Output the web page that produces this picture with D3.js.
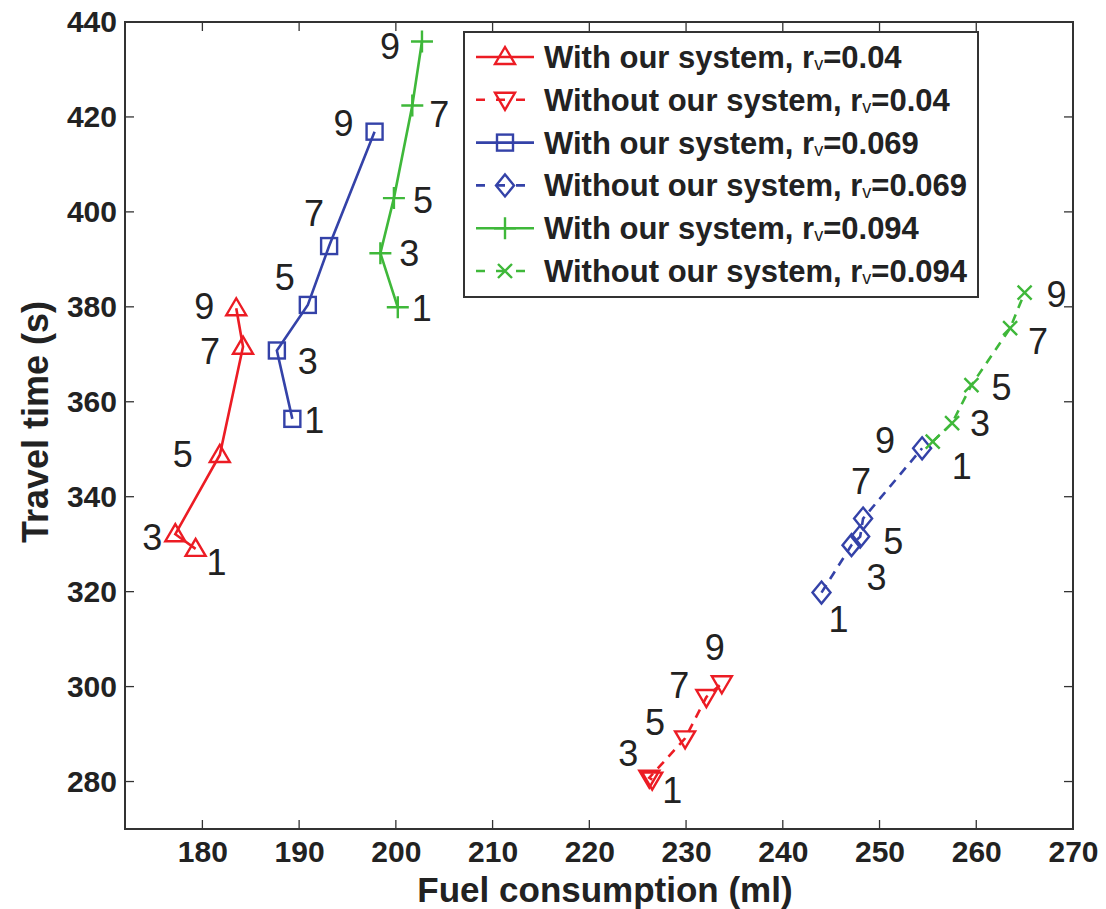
<!DOCTYPE html>
<html>
<head>
<meta charset="utf-8">
<script src="https://cdn.jsdelivr.net/npm/d3@7"></script>
<style>
  html, body { margin: 0; padding: 0; background: #fff; }
  svg { display: block; font-family: "Liberation Sans", Arial, Helvetica, sans-serif; }
</style>
</head>
<body>
<svg id="chart" width="1106" height="909"></svg>
<script>
// Ratio settings shown next to each point (1, 3, 5, 7, 9)
const pointLabels = ["1", "3", "5", "7", "9"];

// Fuel consumption (ml) and travel time (s) for each configuration
const redWithFuel      = [179.3, 177.2, 181.8, 184.2, 183.5];
const redWithTime      = [329.0, 332.1, 348.8, 371.6, 379.7];
const redWithoutFuel   = [226.5, 226.2, 229.9, 232.1, 233.7];
const redWithoutTime   = [280.4, 280.8, 289.1, 297.8, 300.7];
const blueWithFuel     = [189.3, 187.7, 190.9, 193.1, 197.8];
const blueWithTime     = [356.4, 370.8, 380.4, 392.8, 416.9];
const blueWithoutFuel  = [244.0, 247.1, 248.0, 248.3, 254.4];
const blueWithoutTime  = [319.8, 329.8, 331.6, 335.4, 350.2];
const greenWithFuel    = [200.2, 198.4, 199.8, 201.7, 202.7];
const greenWithTime    = [379.9, 391.3, 402.9, 422.4, 435.9];
const greenWithoutFuel = [255.5, 257.5, 259.5, 263.5, 265.0];
const greenWithoutTime = [351.6, 355.5, 363.5, 375.5, 383.0];

// Legend text: prefix, subscript, suffix
const legendLabels = [
  ["With our system, r", "v", "=0.04"],
  ["Without our system, r", "v", "=0.04"],
  ["With our system, r", "v", "=0.069"],
  ["Without our system, r", "v", "=0.069"],
  ["With our system, r", "v", "=0.094"],
  ["Without our system, r", "v", "=0.094"]
];

const xTicks = [180, 190, 200, 210, 220, 230, 240, 250, 260, 270];
const yTicks = [280, 300, 320, 340, 360, 380, 400, 420, 440];

// Pixel offsets of the number labels relative to their points
const labelOffsets = [
  [[21, 14], [-23, 3], [-37, 0], [-33, 5], [-32, -2]],
  [[20, 11], [-21, -24], [-30, -16], [-27, -12], [-7, -36]],
  [[22, 2], [31, 11], [-23, -27], [-15, -33], [-31, -8]],
  [[17, 27], [25, 32], [33, 5], [-2, -37], [-37, -8]],
  [[24, 1], [29, 0], [29, 2], [27, 9], [-32, 5]],
  [[29, 25], [28, 0], [30, 2], [28, 13], [32, 2]]
];

const RED = "#ec1c24", BLUE = "#3442a8", GREEN = "#3fb83a";

const series = [
  { fuel: redWithFuel,      time: redWithTime,      color: RED,   dashed: false, marker: "triUp" },
  { fuel: redWithoutFuel,   time: redWithoutTime,   color: RED,   dashed: true,  marker: "triDown" },
  { fuel: blueWithFuel,     time: blueWithTime,     color: BLUE,  dashed: false, marker: "square" },
  { fuel: blueWithoutFuel,  time: blueWithoutTime,  color: BLUE,  dashed: true,  marker: "diamond" },
  { fuel: greenWithFuel,    time: greenWithTime,    color: GREEN, dashed: false, marker: "plus" },
  { fuel: greenWithoutFuel, time: greenWithoutTime, color: GREEN, dashed: true,  marker: "cross" }
];

const svg = d3.select("#chart");
const plot = { left: 125, top: 22, right: 1073, bottom: 829 };

const x = d3.scaleLinear().domain([172, 270]).range([plot.left, plot.right]);
const y = d3.scaleLinear().domain([270, 440]).range([plot.bottom, plot.top]);

// Frame with inward ticks on all four sides
const tickLen = 9;
const axisColor = "#333";
const g = svg.append("g");

const bottomAxis = d3.axisBottom(x).tickValues(xTicks).tickSize(0).tickPadding(12);
const leftAxis = d3.axisLeft(y).tickValues(yTicks).tickSize(0).tickPadding(8);

const gx = g.append("g").attr("transform", `translate(0,${plot.bottom})`).call(bottomAxis);
const gy = g.append("g").attr("transform", `translate(${plot.left},0)`).call(leftAxis);
[gx, gy].forEach(a => {
  a.select(".domain").remove();
  a.selectAll("text")
    .attr("fill", "#222")
    .style("font-size", "30px")
    .style("font-weight", "bold");
});
gx.selectAll("text").attr("dy", "0.71em");

const ticks = g.append("g").attr("stroke", axisColor).attr("stroke-width", 1.3);
xTicks.forEach(v => {
  ticks.append("line").attr("x1", x(v)).attr("x2", x(v)).attr("y1", plot.bottom).attr("y2", plot.bottom - tickLen);
  ticks.append("line").attr("x1", x(v)).attr("x2", x(v)).attr("y1", plot.top).attr("y2", plot.top + tickLen);
});
yTicks.forEach(v => {
  ticks.append("line").attr("x1", plot.left).attr("x2", plot.left + tickLen).attr("y1", y(v)).attr("y2", y(v));
  ticks.append("line").attr("x1", plot.right).attr("x2", plot.right - tickLen).attr("y1", y(v)).attr("y2", y(v));
});

g.append("rect")
  .attr("x", plot.left).attr("y", plot.top)
  .attr("width", plot.right - plot.left).attr("height", plot.bottom - plot.top)
  .attr("fill", "none").attr("stroke", axisColor).attr("stroke-width", 2);

// Axis titles
svg.append("text")
  .attr("x", 605).attr("y", 902)
  .attr("text-anchor", "middle")
  .attr("fill", "#222")
  .style("font-size", "35px").style("font-weight", "bold")
  .text("Fuel consumption (ml)");

svg.append("text")
  .attr("transform", `translate(48,422) rotate(-90)`)
  .attr("text-anchor", "middle")
  .attr("fill", "#222")
  .style("font-size", "36px").style("font-weight", "bold")
  .text("Travel time (s)");

// Marker shapes drawn around (0,0)
function drawMarker(sel, type, color) {
  const common = s => s.attr("fill", "none").attr("stroke", color).attr("stroke-width", 2.4);
  if (type === "triUp") {
    common(sel.append("path").attr("d", "M0,-10 L10,7 L-10,7 Z"));
  } else if (type === "triDown") {
    common(sel.append("path").attr("d", "M0,10 L10,-7 L-10,-7 Z"));
  } else if (type === "square") {
    common(sel.append("rect").attr("x", -8).attr("y", -8).attr("width", 16).attr("height", 16));
  } else if (type === "diamond") {
    common(sel.append("path").attr("d", "M0,-11 L9,0 L0,11 L-9,0 Z"));
  } else if (type === "plus") {
    common(sel.append("path").attr("d", "M-11,0 L11,0 M0,-11 L0,11"));
  } else if (type === "cross") {
    common(sel.append("path").attr("d", "M-7,-7 L7,7 M-7,7 L7,-7"));
  }
}

const line = d3.line().x(d => x(d[0])).y(d => y(d[1]));

series.forEach((s, si) => {
  const pts = s.fuel.map((f, i) => [f, s.time[i]]);
  const sg = svg.append("g");
  sg.append("path")
    .attr("d", line(pts))
    .attr("fill", "none")
    .attr("stroke", s.color)
    .attr("stroke-width", 2.6)
    .attr("stroke-dasharray", s.dashed ? "9,7" : null);
  pts.forEach((p, i) => {
    const m = sg.append("g").attr("transform", `translate(${x(p[0])},${y(p[1])})`);
    drawMarker(m, s.marker, s.color);
  });
  pts.forEach((p, i) => {
    const off = labelOffsets[si][i];
    sg.append("text")
      .attr("x", x(p[0]) + off[0])
      .attr("y", y(p[1]) + off[1])
      .attr("text-anchor", "middle")
      .attr("dominant-baseline", "central")
      .attr("fill", "#222")
      .style("font-size", "36px")
      .text(pointLabels[i]);
  });
});

// Legend
const legend = { x: 464, y: 32, w: 514, h: 265, rowStart: 57, rowStep: 42.8 };
const lg = svg.append("g");
lg.append("rect")
  .attr("x", legend.x).attr("y", legend.y)
  .attr("width", legend.w).attr("height", legend.h)
  .attr("fill", "#fff").attr("stroke", axisColor).attr("stroke-width", 2);

series.forEach((s, i) => {
  const cy = legend.rowStart + i * legend.rowStep;
  lg.append("line")
    .attr("x1", 476).attr("x2", 534).attr("y1", cy).attr("y2", cy)
    .attr("stroke", s.color).attr("stroke-width", 2.6)
    .attr("stroke-dasharray", s.dashed ? "9,11" : null);
  const m = lg.append("g").attr("transform", `translate(505,${cy})`);
  drawMarker(m, s.marker, s.color);
  const t = lg.append("text")
    .attr("x", 544).attr("y", cy + 11)
    .attr("fill", "#222")
    .style("font-size", "31px").style("font-weight", "bold");
  const lab = legendLabels[i];
  t.append("tspan").text(lab[0]);
  t.append("tspan").style("font-size", "18px").style("font-weight", "normal").attr("dy", 2).text(lab[1]);
  t.append("tspan").attr("dy", -2).text(lab[2]);
});
</script>
</body>
</html>
